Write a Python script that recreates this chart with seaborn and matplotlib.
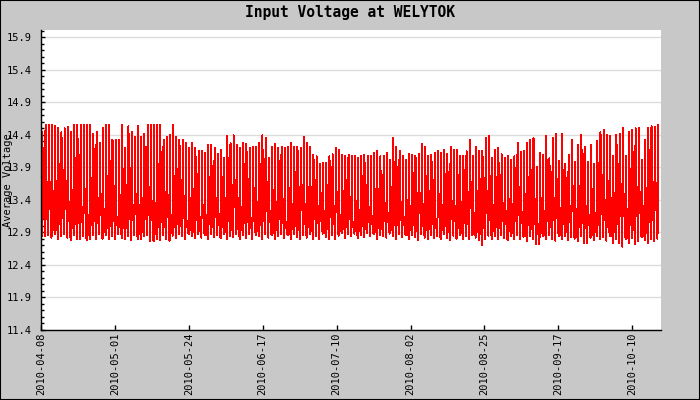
import numpy as np
import pandas as pd
import matplotlib
matplotlib.use("Agg")
import matplotlib.pyplot as plt
import matplotlib.dates as mdates
import matplotlib.patches as mpatches
from matplotlib.ticker import MultipleLocator
import seaborn as sns
from datetime import datetime, timedelta

# daily readings, one value per day, Apr 8 .. Oct 18 2010
high_apr = [14.45, 14.55, 14.55, 14.55, 14.53, 14.50, 14.44, 14.50, 14.52, 14.44, 14.55, 14.55,
            14.55, 14.55, 14.55, 14.55, 14.42, 14.45, 14.27, 14.50, 14.55, 14.55, 14.32]
high_may = [14.32, 14.32, 14.55, 14.20, 14.53, 14.45, 14.37, 14.54, 14.37, 14.42, 14.55, 14.55,
            14.55, 14.55, 14.55, 14.32, 14.37, 14.40, 14.55, 14.37, 14.32, 14.32, 14.27, 14.20,
            14.27, 14.20, 14.15, 14.15, 14.12, 14.24, 14.24]
high_jun = [14.20, 14.10, 14.17, 14.05, 14.38, 14.27, 14.39, 14.25, 14.20, 14.27, 14.26, 14.20,
            14.22, 14.22, 14.27, 14.39, 14.35, 14.04, 14.22, 14.26, 14.20, 14.22, 14.20, 14.21,
            14.27, 14.22, 14.22, 14.20, 14.37, 14.27]
high_jul = [14.22, 14.09, 14.07, 13.95, 13.97, 13.97, 14.07, 14.10, 14.20, 14.17, 14.09, 14.07,
            14.09, 14.08, 14.07, 14.04, 14.08, 14.09, 14.07, 14.07, 14.12, 14.15, 14.07, 14.08,
            14.12, 14.02, 14.35, 14.22, 14.15, 14.07, 14.02]
high_aug = [14.10, 14.09, 14.08, 14.10, 14.26, 14.22, 14.07, 14.09, 14.12, 14.15, 14.12, 14.17,
            14.11, 14.22, 14.17, 14.17, 14.08, 14.07, 14.15, 14.32, 14.07, 14.22, 14.15, 14.15,
            14.35, 14.38, 14.05, 14.16, 14.20, 14.10, 14.05]
high_sep = [14.07, 14.02, 14.07, 14.28, 14.13, 14.15, 14.28, 14.32, 14.35, 13.90, 14.12, 14.09,
            14.38, 14.04, 14.35, 14.41, 14.00, 14.41, 13.95, 14.09, 14.32, 13.98, 14.24, 14.40,
            14.22, 13.98, 14.24, 13.95, 14.30, 14.44]
high_oct = [14.47, 14.40, 14.38, 14.07, 14.40, 14.42, 14.50, 14.07, 14.44, 14.47, 14.50, 14.50,
            14.02, 14.32, 14.50, 14.53, 14.52, 14.55]

low_apr = [12.85, 12.84, 12.86, 12.82, 12.87, 12.79, 12.85, 12.88, 12.82, 12.78, 12.86, 12.79,
           12.80, 12.84, 12.78, 12.80, 12.86, 12.79, 12.87, 12.80, 12.86, 12.79, 12.84]
low_may = [12.80, 12.87, 12.81, 12.79, 12.85, 12.78, 12.86, 12.80, 12.79, 12.84, 12.86, 12.77,
           12.76, 12.80, 12.78, 12.86, 12.80, 12.77, 12.85, 12.82, 12.88, 12.84, 12.79, 12.87,
           12.85, 12.81, 12.88, 12.82, 12.86, 12.80, 12.87]
low_jun = [12.83, 12.86, 12.81, 12.88, 12.80, 12.85, 12.83, 12.87, 12.79, 12.86, 12.82, 12.88,
           12.80, 12.86, 12.84, 12.79, 12.87, 12.82, 12.86, 12.80, 12.85, 12.87, 12.81, 12.86,
           12.80, 12.87, 12.83, 12.79, 12.86, 12.82]
low_jul = [12.87, 12.80, 12.85, 12.79, 12.88, 12.83, 12.79, 12.86, 12.80, 12.85, 12.89, 12.82,
           12.87, 12.84, 12.88, 12.81, 12.86, 12.83, 12.89, 12.84, 12.87, 12.80, 12.86, 12.85,
           12.82, 12.88, 12.84, 12.80, 12.87, 12.83, 12.86]
low_aug = [12.80, 12.86, 12.83, 12.78, 12.87, 12.82, 12.79, 12.86, 12.81, 12.84, 12.79, 12.87,
           12.82, 12.78, 12.85, 12.80, 12.86, 12.79, 12.84, 12.80, 12.86, 12.82, 12.78, 12.71,
           12.80, 12.85, 12.79, 12.84, 12.80, 12.86, 12.81]
low_sep = [12.78, 12.84, 12.80, 12.86, 12.79, 12.83, 12.77, 12.85, 12.80, 12.72, 12.72, 12.84,
           12.79, 12.86, 12.80, 12.77, 12.84, 12.79, 12.85, 12.78, 12.83, 12.80, 12.77, 12.84,
           12.74, 12.74, 12.82, 12.78, 12.85, 12.79]
low_oct = [12.83, 12.77, 12.84, 12.74, 12.80, 12.73, 12.68, 12.79, 12.74, 12.82, 12.72, 12.76,
           12.83, 12.78, 12.74, 12.80, 12.77, 12.80]

eve_apr = [13.90, 13.55, 13.85, 13.60, 13.70, 13.55, 13.62, 13.90, 13.45, 13.58, 13.85, 13.62,
           13.40, 13.70, 13.20, 13.58, 13.80, 13.35, 13.62, 13.30, 13.75, 13.45, 13.60]
eve_may = [13.20, 13.55, 13.90, 13.30, 13.80, 13.45, 13.60, 13.35, 13.15, 13.70, 13.85, 13.50,
           13.40, 13.88, 13.58, 13.30, 13.62, 13.20, 13.78, 13.48, 13.32, 13.62, 13.10, 13.45,
           13.25, 13.55, 13.05, 13.40, 13.20, 13.65, 13.35]
eve_jun = [13.60, 13.25, 13.82, 13.40, 13.70, 13.15, 13.88, 13.50, 13.30, 13.75, 13.45, 13.20,
           13.68, 13.40, 13.85, 13.55, 13.92, 13.30, 13.60, 13.25, 13.72, 13.45, 13.10, 13.65,
           13.35, 13.50, 13.20, 13.80, 13.40, 13.62]
eve_jul = [13.30, 13.70, 13.45, 13.60, 13.25, 13.55, 13.85, 13.40, 13.65, 13.20, 13.50, 13.30,
           13.62, 13.10, 13.45, 13.25, 13.55, 13.05, 13.40, 13.20, 13.60, 13.35, 13.15, 13.50,
           13.25, 13.65, 13.92, 13.40, 13.55, 13.20, 13.45]
eve_aug = [13.30, 13.55, 13.20, 13.65, 13.40, 13.80, 13.25, 13.50, 13.15, 13.60, 13.35, 13.70,
           13.20, 13.55, 13.40, 13.85, 13.30, 13.60, 13.45, 13.85, 13.25, 13.55, 13.40, 13.30,
           13.70, 13.90, 13.35, 13.60, 13.20, 13.50, 13.30]
eve_sep = [13.45, 13.20, 13.60, 13.85, 13.30, 13.55, 13.75, 13.40, 13.65, 13.10, 13.50, 13.25,
           13.80, 13.35, 13.60, 13.85, 13.30, 13.70, 13.20, 13.45, 13.75, 13.30, 13.55, 13.88,
           13.40, 13.25, 13.65, 13.20, 13.70, 13.90]
eve_oct = [13.55, 13.80, 13.45, 13.25, 13.70, 13.90, 13.60, 13.30, 13.75, 13.50, 13.85, 13.65,
           13.35, 13.55, 13.80, 13.70, 13.85, 13.85]

tick_dates = ["2010-04-08", "2010-05-01", "2010-05-24", "2010-06-17", "2010-07-10",
              "2010-08-02", "2010-08-25", "2010-09-17", "2010-10-10"]


def main():
    highs = high_apr + high_may + high_jun + high_jul + high_aug + high_sep + high_oct
    lows = low_apr + low_may + low_jun + low_jul + low_aug + low_sep + low_oct
    eves = eve_apr + eve_may + eve_jun + eve_jul + eve_aug + eve_sep + eve_oct
    n = min(len(highs), len(lows), len(eves))

    start = datetime(2010, 4, 8, 12)
    times, volts = [], []
    for i in range(n):
        day = start + timedelta(days=i)
        times += [day + timedelta(hours=7), day + timedelta(hours=10), day + timedelta(hours=13)]
        volts += [lows[i], highs[i], eves[i]]
    df = pd.DataFrame({"time": times, "volt": volts})

    sns.set_theme(style="white")
    plt.rcParams["font.family"] = ["DejaVu Sans Mono", "DejaVu Sans"]

    fig = plt.figure(figsize=(7, 4), dpi=100, facecolor="#c8c8c8")
    ax = fig.add_axes([41 / 700, 70 / 400, 619.7 / 700, 300 / 400])
    ax.set_facecolor("white")

    sns.lineplot(data=df, x="time", y="volt", estimator=None, sort=False,
                 color="#ff0000", linewidth=0.72, antialiased=False, ax=ax)

    # x axis: evenly spaced date ticks
    x0 = mdates.date2num(start)
    step = 23.175
    ax.set_xticks([x0 + k * step for k in range(len(tick_dates))])
    ax.xaxis.set_major_formatter(mdates.DateFormatter("%Y-%m-%d"))
    ax.set_xlim(x0, x0 + 194.3)

    ax.set_ylim(11.4, 16.01)
    ax.set_yticks(np.arange(11.4, 15.95, 0.5))
    ax.yaxis.set_major_formatter(matplotlib.ticker.FormatStrFormatter("%.1f"))
    ax.yaxis.set_minor_locator(MultipleLocator(0.1))
    ax.grid(axis="y", color="#dcdcdc", linewidth=1.0)
    ax.set_axisbelow(True)

    for side in ["top", "right"]:
        ax.spines[side].set_visible(False)
    for side in ["left", "bottom"]:
        ax.spines[side].set_color("black")
        ax.spines[side].set_linewidth(1.0)

    ax.tick_params(axis="x", which="major", direction="in", length=3.5, width=1,
                   color="black", labelsize=7.5, labelrotation=90, pad=2, bottom=True)
    ax.tick_params(axis="y", which="major", direction="in", length=3, width=1,
                   color="black", labelsize=7.5, pad=7, left=True)
    ax.tick_params(axis="y", which="minor", direction="in", length=2, width=1,
                   color="black", left=True)
    for lbl in ax.get_xticklabels() + ax.get_yticklabels():
        lbl.set_color("black")

    ax.set_xlabel("")
    ax.set_ylabel("")
    fig.text(8 / 700, 1 - 180 / 400, "Average Voltage", rotation=90,
             ha="center", va="center", fontsize=7.5, color="black")
    fig.text(0.5, 1 - 12 / 400, "Input Voltage at WELYTOK", ha="center", va="center",
             fontsize=10.5, fontweight="bold", color="black")

    fig.patches.append(mpatches.Rectangle((0, 0), 1, 1, transform=fig.transFigure,
                                          fill=False, edgecolor="black", linewidth=1.5))

    fig.savefig("out.png", dpi=100, facecolor=fig.get_facecolor())


if __name__ == "__main__":
    main()
